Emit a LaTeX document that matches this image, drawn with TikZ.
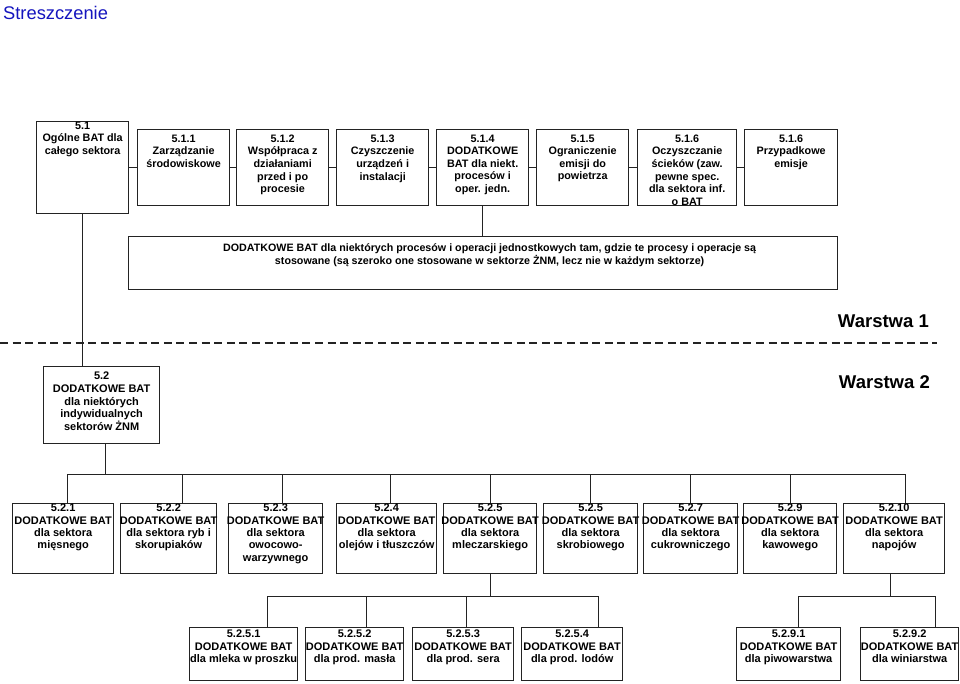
\documentclass[tikz,border=0pt]{standalone}
\usepackage{fontspec}
\setmainfont{Liberation Sans}
\usetikzlibrary{positioning}
\definecolor{titleblue}{RGB}{20,20,190}
\definecolor{linegray}{RGB}{35,35,35}

\tikzset{
  box/.style={draw=linegray, line width=1.3pt, inner sep=0pt, anchor=north west},
  txt/.style={align=center, inner sep=0pt, font=\fontsize{10.8}{12.6}\selectfont\bfseries},
  midtxt/.style={txt, font=\fontsize{11}{12.7}\selectfont\bfseries},
  smalltxt/.style={txt, font=\fontsize{11}{12.3}\selectfont\bfseries},
  widetxt/.style={txt, font=\fontsize{10.7}{13}\selectfont\bfseries},
  layer/.style={inner sep=0pt, anchor=base east, font=\fontsize{18.5}{22}\selectfont\bfseries},
  link/.style={draw=linegray, line width=1pt},
}

% \bx[style]{name}{x}{y}{width}{height}{text offset}{text}
\newcommand{\bx}[8][txt]{%
  \node[box, minimum width=#5pt, minimum height=#6pt] (#2) at (#3,#4) {};
  \node[#1, below=#7pt of #2.north] (#2t) {#8};}

\begin{document}
\begin{tikzpicture}[x=1pt, y=-1pt]
\useasboundingbox (0,0) rectangle (960,683);

\node[anchor=base west, inner sep=0pt, text=titleblue, font=\fontsize{18.3}{22}\selectfont] (title) at (3,19.5) {Streszczenie};

% Warstwa 1
\bx{b51}{36}{121}{92}{92}{0.5}{5.1\\Ogólne BAT  dla\\całego sektora}
\bx{b511}{137}{129}{92}{76}{5.5}{5.1.1\\Zarządzanie\\środowiskowe}
\bx{b512}{236}{129}{92}{76}{5.5}{5.1.2\\Współpraca z\\działaniami\\przed i po\\procesie}
\bx{b513}{336}{129}{92}{76}{5.5}{5.1.3\\Czyszczenie\\urządzeń i\\instalacji}
\bx{b514}{436}{129}{92}{76}{5.5}{5.1.4\\DODATKOWE\\BAT dla niekt.\\procesów i\\oper. jedn.}
\bx{b515}{536}{129}{92}{76}{5.5}{5.1.5\\Ograniczenie\\emisji do\\powietrza}
\bx{b516}{637}{129}{99}{76}{5.5}{5.1.6\\Oczyszczanie\\ścieków (zaw.\\pewne  spec.\\dla sektora inf.\\o BAT}
\bx{b517}{744}{129}{93}{76}{5.5}{5.1.6\\Przypadkowe\\emisje}

\node[box, minimum width=709pt, minimum height=53pt] (dod) at (128,236) {};
\node[widetxt, below=7pt of dod.north, xshift=6.5pt] (dodt) {DODATKOWE BAT dla niektórych procesów i operacji jednostkowych tam, gdzie te procesy i operacje są\\stosowane (są szeroko one stosowane w sektorze ŻNM, lecz nie w każdym sektorze)};

\foreach \a/\b in {b51/b511, b511/b512, b512/b513, b513/b514, b514/b515, b515/b516, b516/b517}
  \draw[link] (\a) -- (\b);
\draw[link] (b514.south) -- (b514.south |- dod.north);

\node[layer] (w1) at (929,327) {Warstwa 1};
\draw[linegray, line width=2pt, dash pattern=on 8pt off 4.6pt] (0,343) -- (937,343);

% Warstwa 2
\node[layer] (w2) at (930,388) {Warstwa 2};
\bx[midtxt]{b52}{43}{366}{116}{77}{6}{5.2\\DODATKOWE BAT\\dla niektórych\\indywidualnych\\sektorów ŻNM}
\draw[link] (b51.south) -- (b51.south |- b52.north);

\bx[smalltxt]{b521}{12}{503}{101}{70}{1}{5.2.1\\DODATKOWE BAT\\dla sektora\\mięsnego}
\bx[smalltxt]{b522}{120}{503}{96}{70}{1}{5.2.2\\DODATKOWE BAT\\dla sektora ryb i\\skorupiaków}
\bx[smalltxt]{b523}{228}{503}{94}{70}{1}{5.2.3\\DODATKOWE BAT\\dla sektora\\owocowo-\\warzywnego}
\bx[smalltxt]{b524}{336}{503}{100}{70}{1}{5.2.4\\DODATKOWE BAT\\dla sektora\\olejów i tłuszczów}
\bx[smalltxt]{b525}{443}{503}{93}{70}{1}{5.2.5\\DODATKOWE BAT\\dla sektora\\mleczarskiego}
\bx[smalltxt]{b526}{543}{503}{94}{70}{1}{5.2.5\\DODATKOWE BAT\\dla sektora\\skrobiowego}
\bx[smalltxt]{b527}{643}{503}{94}{70}{1}{5.2.7\\DODATKOWE BAT\\dla sektora\\cukrowniczego}
\bx[smalltxt]{b529}{743}{503}{93}{70}{1}{5.2.9\\DODATKOWE BAT\\dla sektora\\kawowego}
\bx[smalltxt]{b5210}{843}{503}{101}{70}{1}{5.2.10\\DODATKOWE BAT\\dla sektora\\napojów}

\coordinate (bus1) at (0,474);
\draw[link] ([xshift=4pt]b52.south) -- ([xshift=4pt]b52.south |- bus1);
\draw[link] ([xshift=4.5pt]b521.north |- bus1) -- ([xshift=11.5pt]b5210.north |- bus1);
\foreach \n/\dx in {b521/4.5, b522/14, b523/7, b524/4, b525/0, b526/0, b527/0, b529/0, b5210/11.5}
  \draw[link] ([xshift=\dx pt]\n.north) -- ([xshift=\dx pt]\n.north |- bus1);

\bx[smalltxt]{b5251}{189}{627}{108}{53}{3}{5.2.5.1\\DODATKOWE BAT\\dla mleka w proszku}
\bx[smalltxt]{b5252}{305}{627}{98}{53}{3}{5.2.5.2\\DODATKOWE BAT\\dla prod. masła}
\bx[smalltxt]{b5253}{412}{627}{101}{53}{3}{5.2.5.3\\DODATKOWE BAT\\dla prod. sera}
\bx[smalltxt]{b5254}{521}{627}{101}{53}{3}{5.2.5.4\\DODATKOWE BAT\\dla prod. lodów}
\bx[smalltxt]{b5291}{736}{627}{104}{53}{3}{5.2.9.1\\DODATKOWE BAT\\dla piwowarstwa}
\bx[smalltxt]{b5292}{860}{627}{98}{53}{3}{5.2.9.2\\DODATKOWE BAT\\dla winiarstwa}

\coordinate (bus2) at (0,596);
\draw[link] (b525.south) -- (b525.south |- bus2);
\draw[link] ([xshift=24pt]b5251.north |- bus2) -- ([xshift=26.5pt]b5254.north |- bus2);
\foreach \n/\dx in {b5251/24, b5252/12, b5253/3.5, b5254/26.5}
  \draw[link] ([xshift=\dx pt]\n.north) -- ([xshift=\dx pt]\n.north |- bus2);

\draw[link] ([xshift=-3.5pt]b5210.south) -- ([xshift=-3.5pt]b5210.south |- bus2);
\draw[link] ([xshift=10pt]b5291.north |- bus2) -- ([xshift=26pt]b5292.north |- bus2);
\foreach \n/\dx in {b5291/10, b5292/26}
  \draw[link] ([xshift=\dx pt]\n.north) -- ([xshift=\dx pt]\n.north |- bus2);

\end{tikzpicture}
\end{document}
